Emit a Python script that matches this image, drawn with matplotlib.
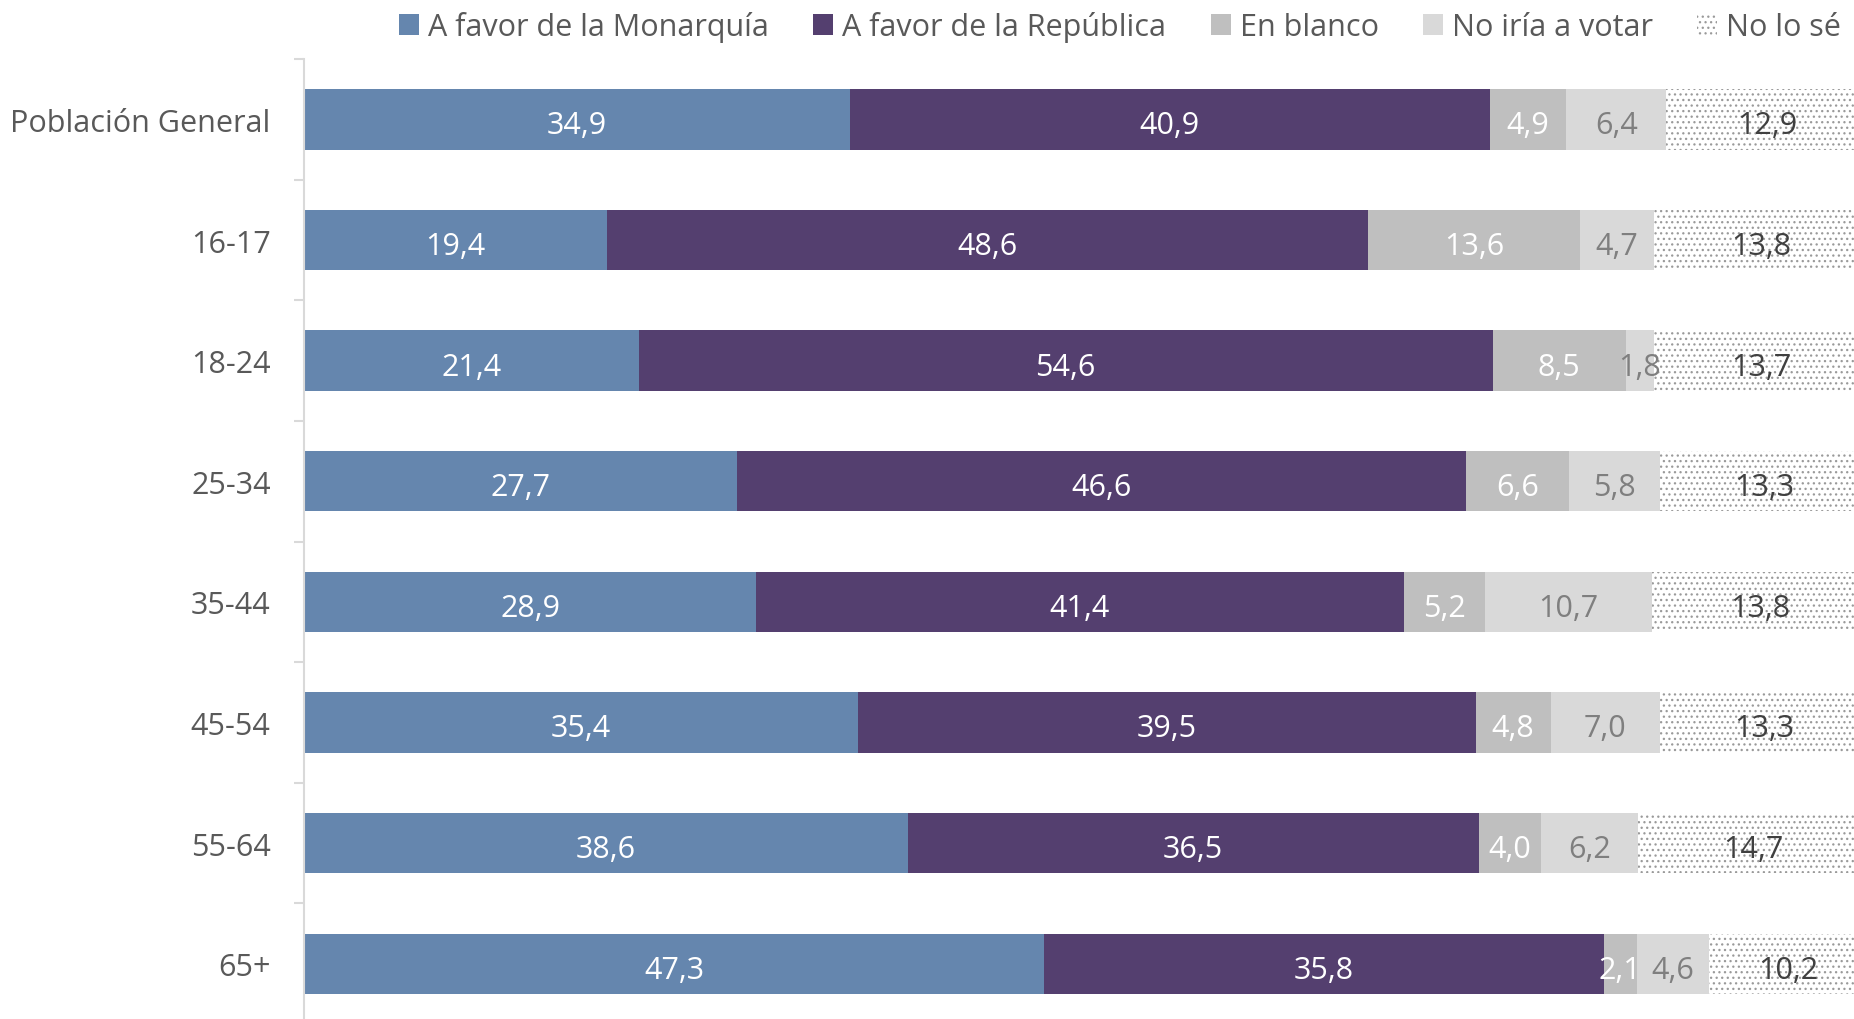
import numpy as np
import matplotlib
matplotlib.use('Agg')
import matplotlib.pyplot as plt
from matplotlib.patches import Patch

plt.rcParams['font.family'] = ['Open Sans', 'DejaVu Sans']
plt.rcParams['hatch.linewidth'] = 0.9

# Data
categories = ['Población General', '16-17', '18-24', '25-34', '35-44', '45-54', '55-64', '65+']
monarquia = [34.9, 19.4, 21.4, 27.7, 28.9, 35.4, 38.6, 47.3]
republica = [40.9, 48.6, 54.6, 46.6, 41.4, 39.5, 36.5, 35.8]
en_blanco = [4.9, 13.6, 8.5, 6.6, 5.2, 4.8, 4.0, 2.1]
no_votar = [6.4, 4.7, 1.8, 5.8, 10.7, 7.0, 6.2, 4.6]
no_sabe = [12.9, 13.8, 13.7, 13.3, 13.8, 13.3, 14.7, 10.2]

series = [
    ('A favor de la Monarquía', monarquia, '#6586AE', 'white', None),
    ('A favor de la República', republica, '#543F6F', 'white', None),
    ('En blanco', en_blanco, '#BFBFBF', 'white', None),
    ('No iría a votar', no_votar, '#D9D9D9', '#7F7F7F', None),
    ('No lo sé', no_sabe, 'white', '#404040', '...'),
]
hatch_color = '#9A9A9A'

fig = plt.figure(figsize=(18.54, 10.2), dpi=100)
ax = fig.add_axes([0.164, -0.0049, 0.8436, 0.946])

y = np.arange(len(categories))
left = np.zeros(len(categories))
handles = []
for name, vals, color, tcolor, hatch in series:
    vals = np.array(vals)
    if hatch:
        ax.barh(y, vals, left=left, height=0.5, color=color,
                edgecolor=hatch_color, linewidth=0, hatch=hatch)
    else:
        ax.barh(y, vals, left=left, height=0.5, color=color, linewidth=0)
    for yi, l, v in zip(y, left, vals):
        ax.text(l + v / 2, yi + 0.02, f'{v:.1f}'.replace('.', ','), ha='center',
                va='center_baseline', color=tcolor, fontsize=22)
    handles.append(Patch(facecolor=color, edgecolor=hatch_color if hatch else color,
                         linewidth=0, hatch=hatch, label=name))
    left += vals

ax.set_xlim(0, 100)
ax.set_ylim(len(categories) - 0.5, -0.5)
ax.set_yticks(y)
ax.set_yticklabels(categories, fontsize=22, color='#595959')
ax.set_yticks(np.arange(-0.5, len(categories), 1), minor=True)
ax.tick_params(axis='y', which='major', length=0, pad=24)
ax.tick_params(axis='y', which='minor', length=7, color='#D9D9D9', width=1.5)
ax.set_xticks([])
for s in ['top', 'right', 'bottom']:
    ax.spines[s].set_visible(False)
ax.spines['left'].set_color('#D9D9D9')
ax.spines['left'].set_linewidth(1.5)

leg = fig.legend(handles=handles, loc='upper right', bbox_to_anchor=(1.008, 1.015), ncol=5,
                 frameon=False, fontsize=22, handlelength=0.65, handleheight=0.65,
                 handletextpad=0.3, columnspacing=1.45)
for t in leg.get_texts():
    t.set_color('#595959')

fig.savefig('out.png', dpi=100)
